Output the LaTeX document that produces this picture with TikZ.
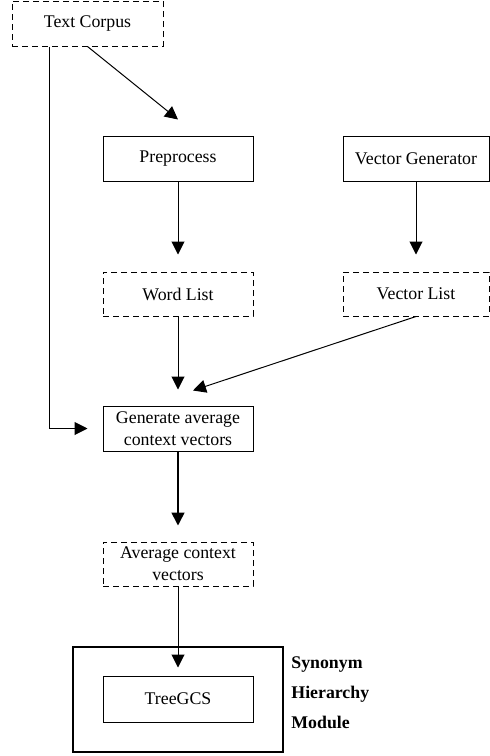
\documentclass[tikz,border=0pt]{standalone}
\usepackage{fontspec}
\setmainfont{Liberation Serif}
\usetikzlibrary{arrows.meta}
\tikzset{
  box/.style={draw,line width=0.5pt,minimum width=75pt,minimum height=22.5pt,inner sep=0pt,align=center,font=\fontsize{8.9}{11}\selectfont},
  dbox/.style={box,dash pattern=on 3pt off 2pt},
  arr/.style={line width=0.5pt,-{Triangle[length=6.5pt,width=6.5pt]}}
}
\begin{document}
\begin{tikzpicture}[x=0.5pt,y=-0.5pt]
\useasboundingbox (0,0) rectangle (489,756);

\node[dbox,minimum height=22.5pt,minimum width=75.5pt] (corpus) at (87.5,23.5) {Text Corpus};
\node[box] (prep) at (178,158.5) {Preprocess};
\node[box,minimum width=73pt] (vgen) at (416,158.5) {Vector Generator};
\node[dbox,minimum height=22pt] (wlist) at (178,294) {Word List};
\node[dbox,minimum height=22pt,minimum width=73pt] (vlist) at (416,294) {Vector List};
\node[box] (gen) at (178,428.5) {Generate average\\context vectors};
\node[dbox,minimum height=22pt] (avg) at (178,564) {Average context\\vectors};
\node[draw,line width=1pt,minimum width=105pt,minimum height=52.5pt] (module) at (178,699.5) {};
\node[box,minimum height=23pt] (tree) at (178,699) {TreeGCS};
\node[anchor=west,align=left,inner sep=0pt,font=\fontsize{8.9}{15}\selectfont\bfseries] (label) at (291,693) {Synonym\\Hierarchy\\Module};

\draw[arr] (corpus.south) -- ([yshift=8pt]prep.north);
\draw[arr] ([xshift=-19pt]corpus.south) |- ([xshift=-7.5pt]gen.west);
\draw[arr] (prep.south) -- ([yshift=8.5pt]wlist.north);
\draw[arr] (vgen.south) -- ([yshift=8.5pt]vlist.north);
\draw[arr] (wlist.south) -- ([yshift=8pt]gen.north);
\draw[arr] (vlist.south) -- ([shift={(7.5pt,7.5pt)}]gen.north);
\draw[arr,line width=0.8pt] (gen.south) -- ([yshift=8pt]avg.north);
\draw[arr] (avg.south) -- ([yshift=4pt]tree.north);
\end{tikzpicture}
\end{document}
